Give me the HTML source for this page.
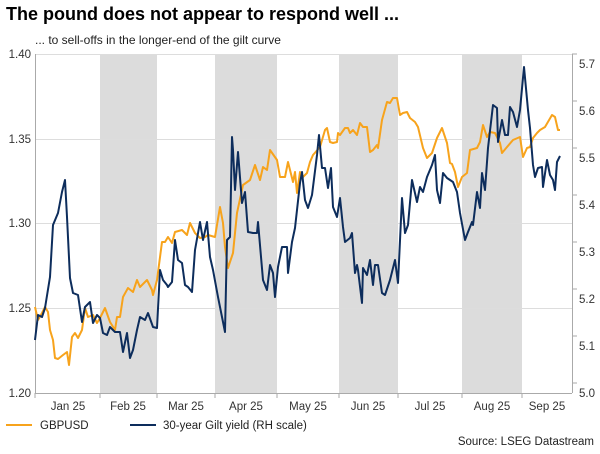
<!DOCTYPE html><html><head><style>body{margin:0;background:#fff}svg{font-family:"Liberation Sans",sans-serif}</style></head><body>
<svg width="600" height="449" viewBox="0 0 600 449">
<text x="6" y="20" font-size="18" font-weight="bold" fill="#000">The pound does not appear to respond well ...</text>
<text x="35" y="44" font-size="12" fill="#222">... to sell-offs in the longer-end of the gilt curve</text>
<g fill="#dcdcdc"><rect x="100" y="54" width="57" height="339"/><rect x="215" y="54" width="62" height="339"/><rect x="339" y="54" width="59" height="339"/><rect x="462" y="54" width="60" height="339"/></g>
<g stroke="#ddd" stroke-width="1"><line x1="35" x2="572" y1="54.5" y2="54.5"/><line x1="35" x2="572" y1="139.5" y2="139.5"/><line x1="35" x2="572" y1="223.5" y2="223.5"/><line x1="35" x2="572" y1="308.5" y2="308.5"/></g>
<g stroke="#aaa"><line x1="35.5" y1="54" x2="35.5" y2="393"/><line x1="572.5" y1="54" x2="572.5" y2="393"/><line x1="35" y1="393.5" x2="572" y2="393.5"/>
<path d="M35 393v5M100 393v5M157 393v5M215 393v5M277 393v5M339 393v5M398 393v5M462 393v5M522 393v5M572 54h5M572 101h5M572 148h5M572 195h5M572 242h5M572 289h5M572 336h5M572 383h5"/></g>
<g font-size="11.5" fill="#333" text-anchor="end"><text x="31" y="58">1.40</text><text x="31" y="143">1.35</text><text x="31" y="227">1.30</text><text x="31" y="312">1.25</text><text x="31" y="397">1.20</text></g>
<g font-size="11.5" fill="#333"><text x="579" y="68">5.7</text><text x="579" y="115">5.6</text><text x="579" y="162">5.5</text><text x="579" y="209">5.4</text><text x="579" y="256">5.3</text><text x="579" y="303">5.2</text><text x="579" y="350">5.1</text><text x="579" y="397">5.0</text></g>
<g font-size="11.5" fill="#333" text-anchor="middle"><text x="68" y="410">Jan 25</text><text x="128" y="410">Feb 25</text><text x="186" y="410">Mar 25</text><text x="246" y="410">Apr 25</text><text x="308" y="410">May 25</text><text x="368" y="410">Jun 25</text><text x="430" y="410">Jul 25</text><text x="492" y="410">Aug 25</text><text x="547" y="410">Sep 25</text></g>
<polyline fill="none" stroke="#f7a31c" stroke-width="2" stroke-linejoin="round" points="35,307 38,320 42,313 45,307 48,312 50,330 53,340 55,358 58,359 63,355 67,352 69,365 72,337 75,333 78,338 82,330 85,308 88,317 93,315 97,323 100,318 105,308 110,322 115,330 117,317 120,317 123,297 128,288 133,292 137,280 140,287 147,280 152,290 153,295 157,280 162,242 165,242 168,237 172,243 175,232 182,230 187,235 190,223 195,233 200,238 205,237 208,235 215,237 220,207 223,223 225,247 228,268 233,253 237,213 243,185 250,180 255,165 260,180 263,167 267,170 270,150 277,160 280,177 285,177 288,162 293,182 295,172 297,193 300,172 303,177 307,173 310,162 313,155 320,147 325,130 327,128 330,142 333,143 337,142 338,133 340,135 345,128 348,128 350,133 353,130 357,135 360,123 363,127 367,127 370,152 373,150 377,145 378,148 382,120 387,102 390,103 393,98 397,98 400,115 403,113 407,112 410,118 415,122 418,127 423,148 427,158 432,153 437,138 442,128 447,143 450,163 452,164 455,172 458,187 462,177 467,173 470,150 477,148 480,142 483,125 487,137 490,132 495,133 500,143 502,153 507,147 513,140 520,137 523,157 527,148 530,147 533,138 537,133 540,130 545,127 552,115 555,117 558,130 560,130"/>
<polyline fill="none" stroke="#0d2d5c" stroke-width="2" stroke-linejoin="round" points="35,340 38,315 42,317 45,308 50,277 53,225 58,213 62,192 65,180 67,217 70,278 73,293 78,295 82,322 85,307 90,302 93,323 97,315 100,318 103,333 107,335 110,327 115,332 120,332 123,352 127,333 130,358 133,350 137,330 140,317 145,320 148,313 153,327 157,328 160,270 163,280 167,285 168,287 172,282 175,240 178,260 182,263 185,285 188,287 192,292 195,250 200,222 203,240 207,222 210,257 213,270 218,297 222,317 225,332 227,240 230,237 232,137 233,150 235,190 238,152 242,203 245,192 248,232 253,233 257,233 258,222 263,280 267,290 270,265 273,273 275,297 278,267 282,247 287,247 288,273 292,242 295,228 300,183 302,172 305,200 308,208 312,195 317,155 319,135 322,168 325,168 328,188 331,168 333,207 337,217 340,198 343,227 345,242 350,238 352,233 355,273 357,265 358,270 362,303 363,268 367,275 370,260 373,285 375,265 378,265 382,293 385,295 390,280 395,260 398,283 402,198 405,233 408,225 412,180 417,202 420,187 423,192 427,177 432,165 435,155 437,190 440,203 443,173 447,178 453,182 457,192 460,213 465,240 468,232 472,222 473,225 477,192 480,208 482,173 485,190 488,148 493,105 497,108 498,142 502,120 505,135 508,135 510,107 513,112 517,127 520,110 524,67 528,110 530,128 533,165 535,177 538,168 542,167 543,187 547,160 550,175 553,180 555,190 557,162 560,156"/>
<line x1="6" y1="425" x2="32" y2="425" stroke="#f7a31c" stroke-width="2"/><text x="40" y="429" font-size="11.5" fill="#222">GBPUSD</text>
<line x1="130" y1="425" x2="156" y2="425" stroke="#0d2d5c" stroke-width="2"/><text x="163" y="429" font-size="11.5" fill="#222">30-year Gilt yield (RH scale)</text>
<text x="594" y="445" font-size="11.5" fill="#222" text-anchor="end">Source: LSEG Datastream</text>
</svg></body></html>
